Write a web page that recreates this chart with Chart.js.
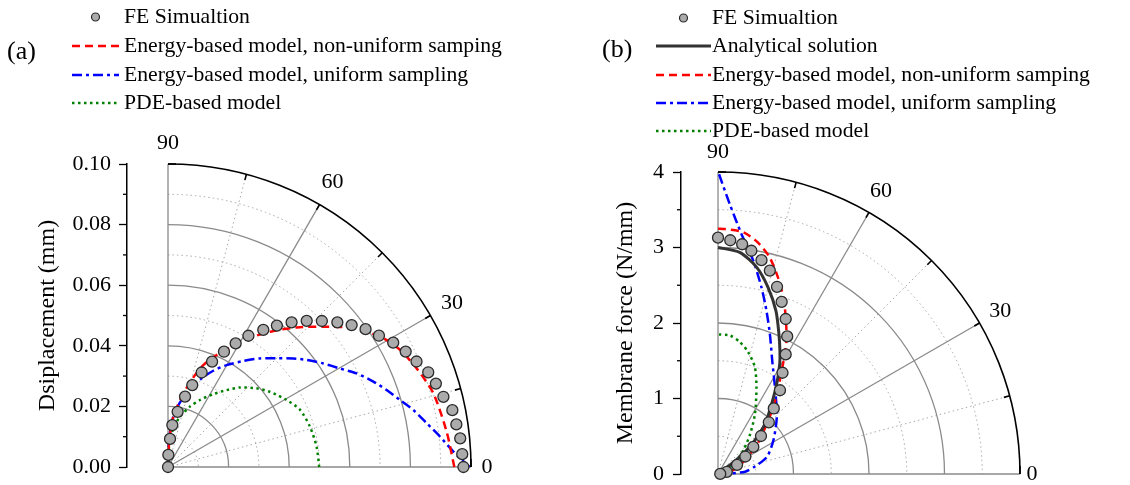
<!DOCTYPE html>
<html>
<head>
<meta charset="utf-8">
<script src="https://cdn.jsdelivr.net/npm/chart.js@4.4.0/dist/chart.umd.min.js"></script>
<style>
  html, body { margin: 0; padding: 0; background: #fff; overflow: hidden; }
  #wrap { position: relative; width: 1130px; height: 485px; overflow: hidden; }
  canvas { position: absolute; top: 0; }
  #chartA { left: 0; }
  #chartB { left: 565px; }
</style>
</head>
<body>
<div id="wrap">
  <canvas id="chartA" width="565" height="520"></canvas>
  <canvas id="chartB" width="565" height="520"></canvas>
</div>
<script>
// ---------- panel (a): angle (deg) / displacement (mm)
var feAngA  = [0, 2.5, 5.6, 8.4, 11.3, 14.3, 17.3, 20.0, 23.0, 25.9, 28.9, 31.9, 34.9, 37.7, 40.5, 43.5,
               46.5, 49.5, 52.4, 55.2, 58.5, 61.3, 64.1, 67.3, 70.4, 73.5, 76.4, 80.1, 84.1, 85.9, 88.4, 90];
var feDispA = [0.0975, 0.0972, 0.0969, 0.0962, 0.0957, 0.0938, 0.0926, 0.0914, 0.0891, 0.0872, 0.0849, 0.0820,
               0.0795, 0.0766, 0.0735, 0.0700, 0.0665, 0.0628, 0.0589, 0.0551, 0.0508, 0.0465, 0.0423, 0.0377,
               0.0331, 0.0282, 0.0239, 0.0185, 0.0139, 0.0093, 0.0040, 0];
var nonUniAngA  = [0, 7.2, 15.5, 21.6, 26.8, 30.9, 34.3, 38, 42.1, 47.3, 52.2, 56.8, 61.2, 66.5, 70.9, 74.8, 79, 84, 87.2, 90];
var nonUniDispA = [0.0945, 0.0927, 0.0909, 0.0883, 0.0858, 0.0828, 0.0793, 0.0748, 0.0691, 0.0627, 0.0568,
                   0.0514, 0.0459, 0.0403, 0.0356, 0.0298, 0.0236, 0.0167, 0.0089, 0];
var uniAngA  = [0, 3.1, 6.4, 9.6, 13.1, 16.1, 19.4, 22.6, 26.4, 29.8, 33.7, 37.7, 40.9, 45, 49.7, 54.6, 60.1,
                64.8, 69.2, 73.3, 78.5, 82.8, 85.2, 87.9, 90];
var uniDispA = [0.0995, 0.0943, 0.0903, 0.0866, 0.0831, 0.0797, 0.0765, 0.0734, 0.0695, 0.0654, 0.0616, 0.0578,
                0.0547, 0.0507, 0.0470, 0.0429, 0.0388, 0.0351, 0.0313, 0.0271, 0.0226, 0.0184, 0.0145, 0.0089, 0];
var pdeAngA  = [0, 7.8, 15.9, 23.4, 29.4, 36.4, 41.6, 47.9, 52.7, 58.2, 64.5, 70, 76.6, 82.1, 86.8, 90];
var pdeDispA = [0.0499, 0.0495, 0.0487, 0.0475, 0.0450, 0.0418, 0.0391, 0.0354, 0.0319, 0.0283, 0.0245,
                0.0212, 0.0171, 0.0129, 0.0078, 0];
var yTicksA = [0, 0.02, 0.04, 0.06, 0.08, 0.10];
var yMinorA = [0.01, 0.03, 0.05, 0.07, 0.09];

// ---------- panel (b): angle (deg) / membrane force (N/mm)
var feAngB   = [90, 87, 84, 81.5, 78.5, 75.7, 72.5, 69.7, 66.4, 63.3, 60.5, 57.5, 53.5, 49.6, 45.5, 41.5,
                37.5, 32.6, 25.6, 14, 3];
var feForceB = [3.13, 3.10, 3.06, 2.99, 2.89, 2.78, 2.60, 2.43, 2.24, 2.04, 1.82, 1.59, 1.38, 1.14, 0.96, 0.76,
                0.59, 0.43, 0.28, 0.12, 0.03];
var anaAngB   = [90, 84.4, 79.5, 75.0, 70.4, 66.6, 63.2, 60.7, 57.0, 52.6, 47.0, 42.6, 39.3, 37.1, 35];
var anaForceB = [3.00, 2.95, 2.79, 2.56, 2.29, 2.03, 1.82, 1.67, 1.43, 1.17, 0.92, 0.665, 0.465, 0.232, 0];
var nonUniAngB   = [90, 88.4, 84, 80.2, 76.6, 73, 69.8, 66.6, 62.9, 60, 55.2, 50.4, 45.9, 38.5, 29.9, 20.3, 8.1, 0];
var nonUniForceB = [3.25, 3.245, 3.22, 3.11, 2.95, 2.72, 2.50, 2.26, 1.99, 1.74, 1.40, 1.15, 0.93, 0.69, 0.46,
                    0.29, 0.14, 0];
var uniAngB   = [89.8, 87.5, 84.4, 80.6, 76.9, 73.5, 69.7, 64.4, 55.4, 44.3, 31.5, 19.5, 11.5, 4.8, 3.1, 0];
var uniForceB = [3.97, 3.577, 3.192, 2.863, 2.539, 2.258, 1.980, 1.663, 1.337, 1.089, 0.862, 0.69, 0.50, 0.361,
                 0.185, 0];
var pdeAngB   = [89.6, 85.1, 80.6, 76.1, 71.0, 66.1, 58.5, 51.5, 43.3, 34.8, 22.6, 0];
var pdeForceB = [1.848, 1.842, 1.771, 1.664, 1.499, 1.258, 0.938, 0.69, 0.467, 0.28, 0.13, 0];
var yTicksB = [0, 1, 2, 3, 4];
var yMinorB = [0.5, 1.5, 2.5, 3.5];

var angleLabels = [0, 30, 60, 90];
var spokeMajor = [30, 60];
var spokeMinor = [15, 45, 75];

var SERIF = '"Liberation Serif", "Times New Roman", serif';
var CANVAS_H = 520;
Chart.defaults.font.family = SERIF;

function toXY(ang, val) {
  return ang.map(function (a, i) {
    var t = a * Math.PI / 180;
    return { x: val[i] * Math.cos(t), y: val[i] * Math.sin(t) };
  });
}

// polar grid, drawn through the chart's own x/y scales
function polarGrid(cfg) {
  return {
    id: 'polarGrid',
    beforeDatasetsDraw: function (chart) {
      var ctx = chart.ctx, xs = chart.scales.x, ys = chart.scales.y;
      var ox = xs.getPixelForValue(0), oy = ys.getPixelForValue(0);
      var rPx = function (v) { return oy - ys.getPixelForValue(v); };
      var R = rPx(cfg.max);
      var ring = function (r) { ctx.beginPath(); ctx.arc(ox, oy, r, -Math.PI / 2, 0); ctx.stroke(); };
      var spoke = function (a, r0, r1) {
        var t = a * Math.PI / 180;
        ctx.beginPath();
        ctx.moveTo(ox + r0 * Math.cos(t), oy - r0 * Math.sin(t));
        ctx.lineTo(ox + r1 * Math.cos(t), oy - r1 * Math.sin(t));
        ctx.stroke();
      };
      ctx.save();
      // dotted minor grid
      ctx.strokeStyle = '#a8a8a8';
      ctx.lineWidth = 1;
      ctx.setLineDash([1.5, 3]);
      cfg.minor.forEach(function (v) { ring(rPx(v)); });
      spokeMinor.forEach(function (a) { spoke(a, 0, R); });
      // solid major grid
      ctx.setLineDash([]);
      ctx.strokeStyle = '#8a8a8a';
      ctx.lineWidth = 1.3;
      cfg.major.forEach(function (v) { if (v > 0 && v < cfg.max) ring(rPx(v)); });
      spokeMajor.forEach(function (a) { spoke(a, 0, R); });
      spoke(0, 0, R);
      spoke(90, 0, R);
      // outer arc + ticks
      ctx.strokeStyle = '#000';
      ctx.lineWidth = 1.6;
      ring(R);
      [15, 30, 45, 60, 75].forEach(function (a) { spoke(a, R - 6, R); });
      ctx.beginPath(); ctx.moveTo(ox, oy - R); ctx.lineTo(ox + 8, oy - R); ctx.stroke();
      ctx.beginPath(); ctx.moveTo(ox + R, oy); ctx.lineTo(ox + R, oy - 8); ctx.stroke();
      // angle labels
      ctx.fillStyle = '#000';
      ctx.font = '22px ' + SERIF;
      ctx.textAlign = 'center';
      ctx.textBaseline = 'middle';
      angleLabels.forEach(function (a, i) {
        var t = a * Math.PI / 180, r = R + cfg.labelOff[i];
        ctx.fillText(String(a), ox + r * Math.cos(t), oy - r * Math.sin(t));
      });
      // minor ticks on the y axis
      ctx.lineWidth = 1.3;
      var ax = ys.right;
      cfg.minor.forEach(function (v) {
        var py = ys.getPixelForValue(v);
        ctx.beginPath(); ctx.moveTo(ax, py); ctx.lineTo(ax - 4, py); ctx.stroke();
      });
      ctx.restore();
    }
  };
}

function sideLegend(cfg) {
  return {
    id: 'sideLegend',
    afterDraw: function (chart) {
      var ctx = chart.ctx;
      ctx.save();
      ctx.textBaseline = 'middle';
      ctx.textAlign = 'left';
      chart.data.datasets.forEach(function (ds, i) {
        var y = cfg.rows[i];
        if (ds.showLine === false) {
          ctx.beginPath();
          ctx.arc((cfg.x0 + cfg.x1) / 2, y, 4, 0, 2 * Math.PI);
          ctx.fillStyle = ds.pointBackgroundColor;
          ctx.fill();
          ctx.strokeStyle = ds.pointBorderColor;
          ctx.lineWidth = 1.2;
          ctx.stroke();
        } else {
          ctx.setLineDash(ds.borderDash || []);
          ctx.strokeStyle = ds.borderColor;
          ctx.lineWidth = ds.borderWidth;
          ctx.beginPath(); ctx.moveTo(cfg.x0, y); ctx.lineTo(cfg.x1, y); ctx.stroke();
          ctx.setLineDash([]);
        }
        ctx.fillStyle = '#000';
        ctx.font = '21.7px ' + SERIF;
        ctx.fillText(ds.label, cfg.textX, y);
      });
      ctx.font = '26px ' + SERIF;
      ctx.fillText(cfg.tag, cfg.tagX, cfg.tagY);
      ctx.restore();
    }
  };
}

function lineSet(label, ang, val, color, dash, width) {
  return {
    label: label, data: toXY(ang, val), showLine: true, pointRadius: 0,
    borderColor: color, borderWidth: width, borderDash: dash, tension: 0.25,
    clip: false, order: 2
  };
}

function markerSet(label, ang, val) {
  return {
    label: label, data: toXY(ang, val), showLine: false, pointRadius: 5.5, pointStyle: 'circle',
    pointBackgroundColor: '#ababab', pointBorderColor: '#2a2a2a', pointBorderWidth: 1.3,
    clip: false, order: 0
  };
}

function makeChart(id, p) {
  var unit = p.R / p.max;
  var xMin = (p.axisX - p.ox) / unit, xMax = (p.right - p.ox) / unit;
  return new Chart(document.getElementById(id), {
    type: 'scatter',
    data: { datasets: p.datasets },
    options: {
      responsive: false,
      animation: false,
      layout: { padding: { left: 0, right: 565 - p.right, top: p.oy - p.R, bottom: CANVAS_H - p.oy } },
      plugins: { legend: { display: false }, tooltip: { enabled: false } },
      scales: {
        x: {
          type: 'linear', display: false, bounds: 'data', min: xMin, max: xMax,
          afterBuildTicks: function (s) { s.min = xMin; s.max = xMax; }
        },
        y: {
          type: 'linear', min: 0, max: p.max,
          afterFit: function (s) { s.width = p.axisX; },
          afterBuildTicks: function (s) {
            s.ticks = p.ticks.map(function (v) { return { value: v }; });
            s.min = 0; s.max = p.max;
          },
          border: { color: '#000', width: 1.5 },
          grid: { drawOnChartArea: false, tickLength: 8, tickColor: '#000', tickWidth: 1.3 },
          ticks: { padding: p.tickPad, color: '#000', font: { size: 22 }, callback: p.fmt },
          title: { display: true, text: p.title, color: '#000', font: { size: 24 },
                   padding: { top: p.titlePad, bottom: 0 } }
        }
      }
    },
    plugins: [polarGrid({ max: p.max, major: p.ticks, minor: p.minor, labelOff: p.labelOff }), sideLegend(p.legend)]
  });
}

makeChart('chartA', {
  ox: 168, oy: 467, R: 303, max: 0.1, axisX: 127, right: 490, tickPad: 8, titlePad: 33,
  ticks: yTicksA, minor: yMinorA, labelOff: [16, 25, 26, 21],
  title: 'Dsiplacement (mm)',
  fmt: function (v) { return v.toFixed(2); },
  legend: { x0: 72, x1: 119, textX: 124, rows: [17, 46, 75, 103], tag: '(a)', tagX: 7, tagY: 52 },
  datasets: [
    markerSet('FE Simualtion', feAngA, feDispA),
    lineSet('Energy-based model, non-uniform samping', nonUniAngA, nonUniDispA, '#ff0000', [8, 5], 2.5),
    lineSet('Energy-based model, uniform sampling', uniAngA, uniDispA, '#0000ff', [10, 4, 3, 4], 2.5),
    lineSet('PDE-based model', pdeAngA, pdeDispA, '#008000', [2.5, 3.5], 2.5)
  ]
});

makeChart('chartB', {
  ox: 153, oy: 474, R: 302, max: 4, axisX: 116, right: 480, tickPad: 9, titlePad: 46,
  ticks: yTicksB, minor: yMinorB, labelOff: [12, 24, 24, 20],
  title: 'Membrane force (N/mm)',
  fmt: function (v) { return String(v); },
  legend: { x0: 91, x1: 146, textX: 147, rows: [18, 46, 75, 103, 131], tag: '(b)', tagX: 37, tagY: 50 },
  datasets: [
    markerSet('FE Simualtion', feAngB, feForceB),
    lineSet('Analytical solution', anaAngB, anaForceB, '#333333', [], 3),
    lineSet('Energy-based model, non-uniform samping', nonUniAngB, nonUniForceB, '#ff0000', [8, 5], 2.5),
    lineSet('Energy-based model, uniform sampling', uniAngB, uniForceB, '#0000ff', [10, 4, 3, 4], 2.5),
    lineSet('PDE-based model', pdeAngB, pdeForceB, '#008000', [2.5, 3.5], 2.5)
  ]
});
</script>
</body>
</html>
